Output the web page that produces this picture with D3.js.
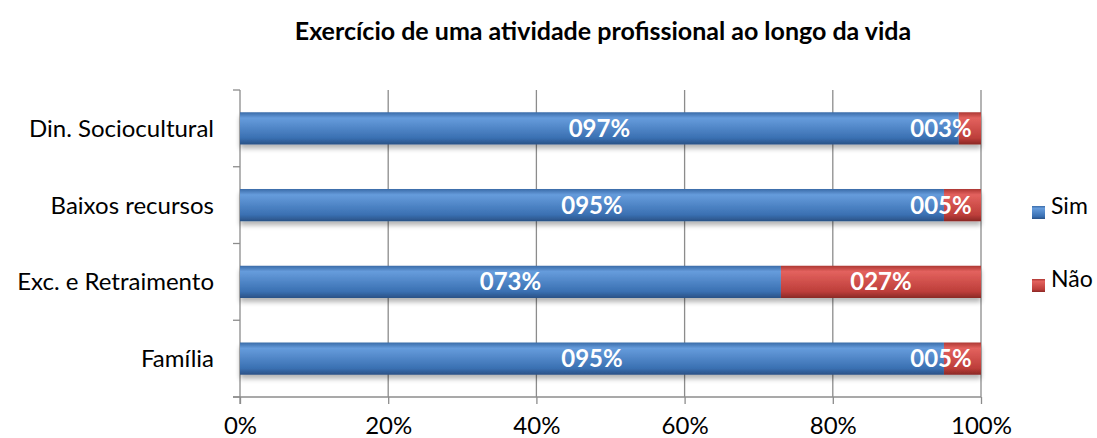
<!DOCTYPE html>
<html><head><meta charset="utf-8">
<script src="https://cdn.jsdelivr.net/npm/d3@7"></script>
<style>body{margin:0;background:#fff}svg{display:block}</style>
</head><body>
<svg id="c" width="1097" height="438"></svg>
<script>
const categories = ["Din. Sociocultural", "Baixos recursos", "Exc. e Retraimento", "Família"];
const sim = [97, 95, 73, 95];
const nao = [3, 5, 27, 5];
const seriesNames = ["Sim", "Não"];
const xTicks = [0, 20, 40, 60, 80, 100];
const title = "Exercício de uma atividade profissional ao longo da vida";

const svg = d3.select("#c");
const font = "Lato, 'Open Sans', sans-serif";
const m = {l: 240, r: 981, t: 90, b: 397};
const x = d3.scaleLinear().domain([0, 100]).range([m.l, m.r]);
const y = d3.scaleBand().domain(categories).range([m.t, m.b]).paddingInner(0.58).paddingOuter(0.29);

const defs = svg.append("defs");
function grad(id, c0, c1, c2, c3) {
  const g = defs.append("linearGradient").attr("id", id).attr("x1", 0).attr("y1", 0).attr("x2", 0).attr("y2", 1);
  g.append("stop").attr("offset", "0%").attr("stop-color", c0);
  g.append("stop").attr("offset", "18%").attr("stop-color", c1);
  g.append("stop").attr("offset", "80%").attr("stop-color", c2);
  g.append("stop").attr("offset", "100%").attr("stop-color", c3);
}
grad("gBlue", "#3a6ba8", "#669cdc", "#3a70b2", "#2a5185");
grad("gRed", "#ad3733", "#e3625e", "#bd3e3a", "#8a2825");
const f = defs.append("filter").attr("id", "sh").attr("x", "-5%").attr("y", "-20%").attr("width", "110%").attr("height", "160%");
f.append("feGaussianBlur").attr("in", "SourceAlpha").attr("stdDeviation", 2.5);
f.append("feOffset").attr("dy", 4).attr("result", "b");
f.append("feComponentTransfer").append("feFuncA").attr("type", "linear").attr("slope", 0.3);
const fm = f.append("feMerge"); fm.append("feMergeNode"); fm.append("feMergeNode").attr("in", "SourceGraphic");

// title
svg.append("text").attr("x", 603).attr("y", 40).attr("text-anchor", "middle")
  .attr("font-family", font).attr("font-weight", "bold").attr("font-size", 25).attr("fill", "#000").text(title);

// gridlines
svg.append("g").selectAll("line").data(xTicks.slice(1)).join("line")
  .attr("x1", d => x(d)).attr("x2", d => x(d)).attr("y1", m.t).attr("y2", m.b)
  .attr("stroke", "#8c8c8c").attr("stroke-width", 1.3);

// y axis
const yAxisG = svg.append("g");
yAxisG.append("line").attr("x1", m.l).attr("x2", m.l).attr("y1", m.t).attr("y2", m.b + 7).attr("stroke", "#8c8c8c").attr("stroke-width", 1.3);
const step = (m.b - m.t) / categories.length;
yAxisG.selectAll("line.t").data(d3.range(categories.length + 1)).join("line").attr("class", "t")
  .attr("x1", m.l - 7).attr("x2", m.l).attr("y1", i => m.t + i * step).attr("y2", i => m.t + i * step)
  .attr("stroke", "#8c8c8c").attr("stroke-width", 1.3);
yAxisG.selectAll("text").data(categories).join("text")
  .attr("x", 214).attr("y", d => y(d) + y.bandwidth() / 2).attr("dy", "0.35em").attr("text-anchor", "end")
  .attr("font-family", font).attr("font-size", 24).attr("fill", "#000").text(d => d);

// x axis
const xAxis = d3.axisBottom(x).tickValues(xTicks).tickFormat(d => d + "%").tickSize(7).tickSizeOuter(0);
const xg = svg.append("g").attr("transform", `translate(0,${m.b})`).call(xAxis);
xg.select(".domain").attr("stroke", "#8c8c8c").attr("stroke-width", 1.3).attr("d", `M${m.l - 7},0H${m.r}`);
xg.selectAll(".tick line").attr("stroke", "#8c8c8c").attr("stroke-width", 1.3);
xg.selectAll(".tick text").attr("font-family", font).attr("font-size", 24).attr("fill", "#000").attr("y", 37).attr("dy", 0);

// bars
const rows = categories.map((c, i) => ({c, sim: sim[i], nao: nao[i]}));
const bars = svg.append("g");
rows.forEach(r => {
  const g = bars.append("g").attr("filter", "url(#sh)");
  g.append("rect").attr("x", x(0)).attr("y", y(r.c)).attr("width", x(r.sim) - x(0)).attr("height", y.bandwidth()).attr("fill", "url(#gBlue)");
  g.append("rect").attr("x", x(r.sim)).attr("y", y(r.c)).attr("width", x(r.sim + r.nao) - x(r.sim)).attr("height", y.bandwidth()).attr("fill", "url(#gRed)");
});
const fmt = v => d3.format("03d")(v) + "%";
const labels = svg.append("g").attr("font-family", font).attr("font-weight", "bold").attr("font-size", 24).attr("fill", "#fff").attr("text-anchor", "middle");
rows.forEach(r => {
  const cy = y(r.c) + y.bandwidth() / 2;
  labels.append("text").attr("x", (x(0) + x(r.sim)) / 2).attr("y", cy).attr("dy", "0.35em").text(fmt(r.sim));
  const cx = Math.min((x(r.sim) + x(100)) / 2, x(100) - 40);
  labels.append("text").attr("x", cx).attr("y", cy).attr("dy", "0.35em").text(fmt(r.nao));
});

// legend
const lg = svg.append("g");
[["gBlue", 206], ["gRed", 279]].forEach(([gid, ly], i) => {
  lg.append("rect").attr("x", 1032).attr("y", ly).attr("width", 13).attr("height", 13).attr("fill", `url(#${gid})`);
  lg.append("text").attr("x", 1051).attr("y", ly).attr("dy", "0.35em").attr("font-family", font).attr("font-size", 23).attr("fill", "#000").text(seriesNames[i]);
});
</script>
</body></html>
